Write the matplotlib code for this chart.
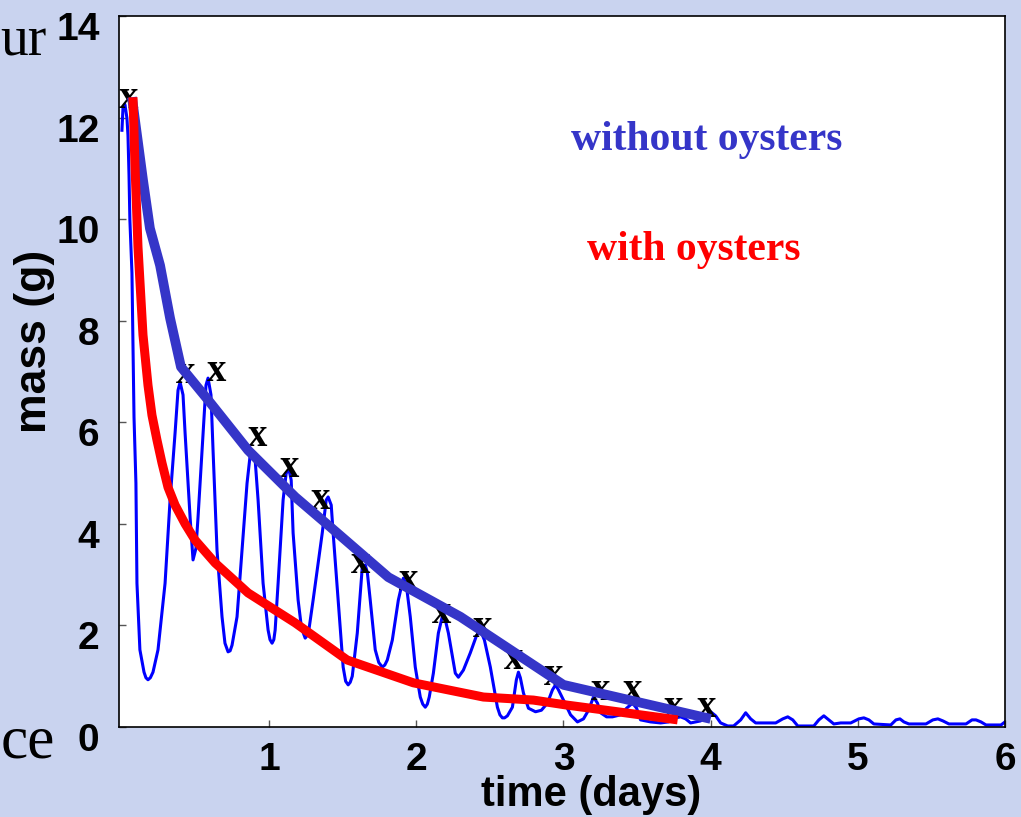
import numpy as np
import matplotlib
matplotlib.use("Agg")
import matplotlib.pyplot as plt
from matplotlib.transforms import ScaledTranslation

# thin line: simulated mass without oysters (tidal oscillation)
t_sim = [0.000, 0.007, 0.020, 0.034, 0.041, 0.048, 0.054, 0.068, 0.075, 0.082, 0.095, 0.102,
         0.122, 0.150, 0.163, 0.177, 0.193, 0.211, 0.245, 0.293, 0.327, 0.361, 0.381, 0.395,
         0.415, 0.429, 0.463, 0.483, 0.503, 0.517, 0.551, 0.571, 0.585, 0.605, 0.619, 0.646,
         0.680, 0.700, 0.721, 0.735, 0.748, 0.782, 0.816, 0.850, 0.871, 0.884, 0.905, 0.925,
         0.959, 0.993, 1.006, 1.020, 1.032, 1.041, 1.061, 1.095, 1.116, 1.136, 1.150, 1.163,
         1.197, 1.220, 1.245, 1.258, 1.272, 1.299, 1.361, 1.388, 1.401, 1.422, 1.435, 1.469,
         1.503, 1.520, 1.537, 1.551, 1.565, 1.599, 1.633, 1.653, 1.667, 1.687, 1.721, 1.745,
         1.769, 1.786, 1.803, 1.837, 1.878, 1.912, 1.932, 1.959, 1.993, 2.027, 2.044, 2.061,
         2.075, 2.088, 2.116, 2.150, 2.184, 2.197, 2.218, 2.265, 2.286, 2.320, 2.367, 2.408,
         2.435, 2.463, 2.503, 2.551, 2.568, 2.585, 2.600, 2.619, 2.653, 2.680, 2.694, 2.707,
         2.728, 2.762, 2.810, 2.850, 2.891, 2.925, 2.946, 2.966, 3.000, 3.048, 3.095, 3.136,
         3.170, 3.204, 3.231, 3.252, 3.293, 3.333, 3.388, 3.429, 3.469, 3.497, 3.524, 3.592,
         3.660, 3.714, 3.762, 3.796, 3.830, 3.864, 3.932, 3.973, 4.000, 4.034, 4.068, 4.116,
         4.156, 4.204, 4.238, 4.272, 4.306, 4.442, 4.490, 4.524, 4.558, 4.592, 4.701, 4.735,
         4.769, 4.803, 4.837, 4.884, 4.952, 5.007, 5.041, 5.075, 5.109, 5.224, 5.259, 5.286,
         5.313, 5.347, 5.463, 5.510, 5.544, 5.578, 5.619, 5.735, 5.776, 5.803, 5.837, 5.871,
         5.973, 6.000]
m_sim = [11.75, 12.19, 12.26, 11.99, 11.65, 10.87, 9.98, 8.94, 7.48, 6.10, 4.80, 2.83,
         1.52, 1.08, 0.97, 0.93, 0.97, 1.08, 1.52, 2.83, 4.47, 5.79, 6.63, 6.79,
         6.54, 5.79, 4.13, 3.29, 3.52, 4.13, 5.79, 6.73, 6.87, 6.54, 5.45, 3.48,
         2.17, 1.65, 1.48, 1.50, 1.61, 2.17, 3.48, 4.80, 5.35, 5.45, 5.26, 4.47,
         2.83, 1.91, 1.72, 1.65, 1.72, 1.91, 2.83, 4.47, 5.00, 5.06, 4.86, 3.82,
         2.50, 1.95, 1.75, 1.80, 1.95, 2.50, 3.82, 4.47, 4.53, 4.37, 3.82, 2.50,
         1.18, 0.90, 0.83, 0.88, 1.00, 1.85, 3.15, 3.19, 3.05, 2.50, 1.52, 1.27,
         1.18, 1.22, 1.32, 1.71, 2.50, 2.93, 2.80, 2.17, 1.18, 0.59, 0.45, 0.39,
         0.45, 0.59, 1.06, 1.85, 2.26, 2.11, 1.85, 1.06, 0.98, 1.12, 1.46, 1.79,
         1.91, 1.71, 1.18, 0.39, 0.24, 0.18, 0.18, 0.22, 0.39, 0.93, 1.08, 0.97,
         0.67, 0.37, 0.30, 0.33, 0.47, 0.73, 0.83, 0.73, 0.53, 0.24, 0.10, 0.16,
         0.33, 0.59, 0.47, 0.28, 0.20, 0.20, 0.24, 0.37, 0.47, 0.37, 0.14, 0.10,
         0.08, 0.10, 0.18, 0.20, 0.16, 0.08, 0.12, 0.24, 0.30, 0.22, 0.08, 0.02,
         0.02, 0.14, 0.28, 0.16, 0.08, 0.08, 0.16, 0.20, 0.14, 0.02, 0.02, 0.14,
         0.22, 0.14, 0.06, 0.08, 0.08, 0.16, 0.18, 0.14, 0.06, 0.04, 0.14, 0.16,
         0.10, 0.06, 0.06, 0.14, 0.16, 0.12, 0.06, 0.06, 0.14, 0.14, 0.10, 0.04,
         0.04, 0.10]

# envelope through the peaks, without oysters
t_without = [0.068, 0.143, 0.190, 0.259, 0.327, 0.401, 0.585, 0.857, 1.177, 1.415, 1.810, 2.300, 3.000, 4.000]
m_without = [12.40, 10.77, 9.82, 9.09, 8.05, 7.09, 6.44, 5.45, 4.53, 3.94, 2.95, 2.17, 0.83, 0.16]

# with oysters
t_with = [0.075, 0.088, 0.109, 0.143, 0.177, 0.204, 0.238, 0.272, 0.313, 0.361, 0.429, 0.497,
          0.633, 0.857, 1.177, 1.530, 1.980, 2.456, 2.796, 3.027, 3.367, 3.776]
m_with = [12.40, 11.10, 9.45, 7.72, 6.73, 6.14, 5.65, 5.20, 4.72, 4.37, 4.00, 3.68,
          3.23, 2.64, 2.05, 1.32, 0.87, 0.59, 0.53, 0.43, 0.30, 0.14]

# peak picks marked with "x"
t_peaks = [0.048, 0.43, 0.64, 0.92, 1.14, 1.35, 1.62, 1.95, 2.17, 2.45, 2.66, 2.93, 3.25, 3.47, 3.75, 3.97]
m_peaks = [12.36, 6.93, 6.97, 5.70, 5.08, 4.45, 3.19, 2.87, 2.22, 1.93, 1.30, 1.00, 0.69, 0.69, 0.37, 0.37]

xticks = [1, 2, 3, 4, 5, 6]
yticks = [0, 2, 4, 6, 8, 10, 12, 14]

sans = "Liberation Sans"
serif = "Liberation Serif"
bg = "#c9d3ef"

fig = plt.figure(figsize=(10.21, 8.17), dpi=100, facecolor=bg)
ax = fig.add_axes([119/1021, 90/817, 886/1021, 711/817])
ax.set_facecolor("white")

ax.plot(t_sim, m_sim, color="#0000ff", lw=2.2, zorder=2)
for t, m in zip(t_peaks, m_peaks):
    ax.annotate("x", xy=(t, m), xytext=(0, -6), textcoords="offset points",
                ha="center", va="baseline", fontsize=28, fontweight="bold",
                family=serif, color="black", zorder=3)
ax.plot(t_without, m_without, color="#3535c8", lw=7, solid_capstyle="butt", zorder=4)
ax.plot(t_with, m_with, color="#ff0000", lw=6.5, solid_capstyle="butt", zorder=5)

ax.text(3.05, 11.36, "without oysters", color="#3535c8", fontsize=30,
        fontweight="bold", family=serif, ha="left", va="baseline")
ax.text(3.16, 9.19, "with oysters", color="#ff0000", fontsize=30,
        fontweight="bold", family=serif, ha="left", va="baseline")

ax.set_xlim(-0.02, 6.0)
ax.set_ylim(0, 14)
ax.set_xticks(xticks)
ax.set_yticks(yticks)
ax.set_xticklabels([str(v) for v in xticks])
ax.set_yticklabels([str(v) for v in yticks])
ax.tick_params(direction="in", length=5, width=1, color="#555555")
ax.tick_params(axis="y", pad=14)
ax.tick_params(axis="x", pad=11)
for lab in ax.get_xticklabels() + ax.get_yticklabels():
    lab.set_fontsize(28)
    lab.set_fontweight("bold")
    lab.set_family(sans)
# y labels sit a little below their ticks in the original
off = ScaledTranslation(0, -10/100, fig.dpi_scale_trans)
for lab in ax.get_yticklabels():
    lab.set_transform(lab.get_transform() + off)
for s in ax.spines.values():
    s.set_linewidth(1.2)
    s.set_color("black")

fig.text(591/1021, (817-806)/817, "time (days)", fontsize=30, fontweight="bold",
         family=sans, ha="center", va="baseline")
fig.text(35/1021, (817-341)/817, "mass (g)", fontsize=32, fontweight="bold",
         family=sans, ha="center", va="center", rotation=90)

# bits of the slide text around the chart
fig.text(0.0, (817-55)/817, "ur", fontsize=40, family=serif, ha="left", va="baseline")
fig.text(55/1021, (817-757)/817, "ce", fontsize=44, family=serif, ha="right", va="baseline")

fig.savefig("out.png", dpi=100, facecolor=bg)
